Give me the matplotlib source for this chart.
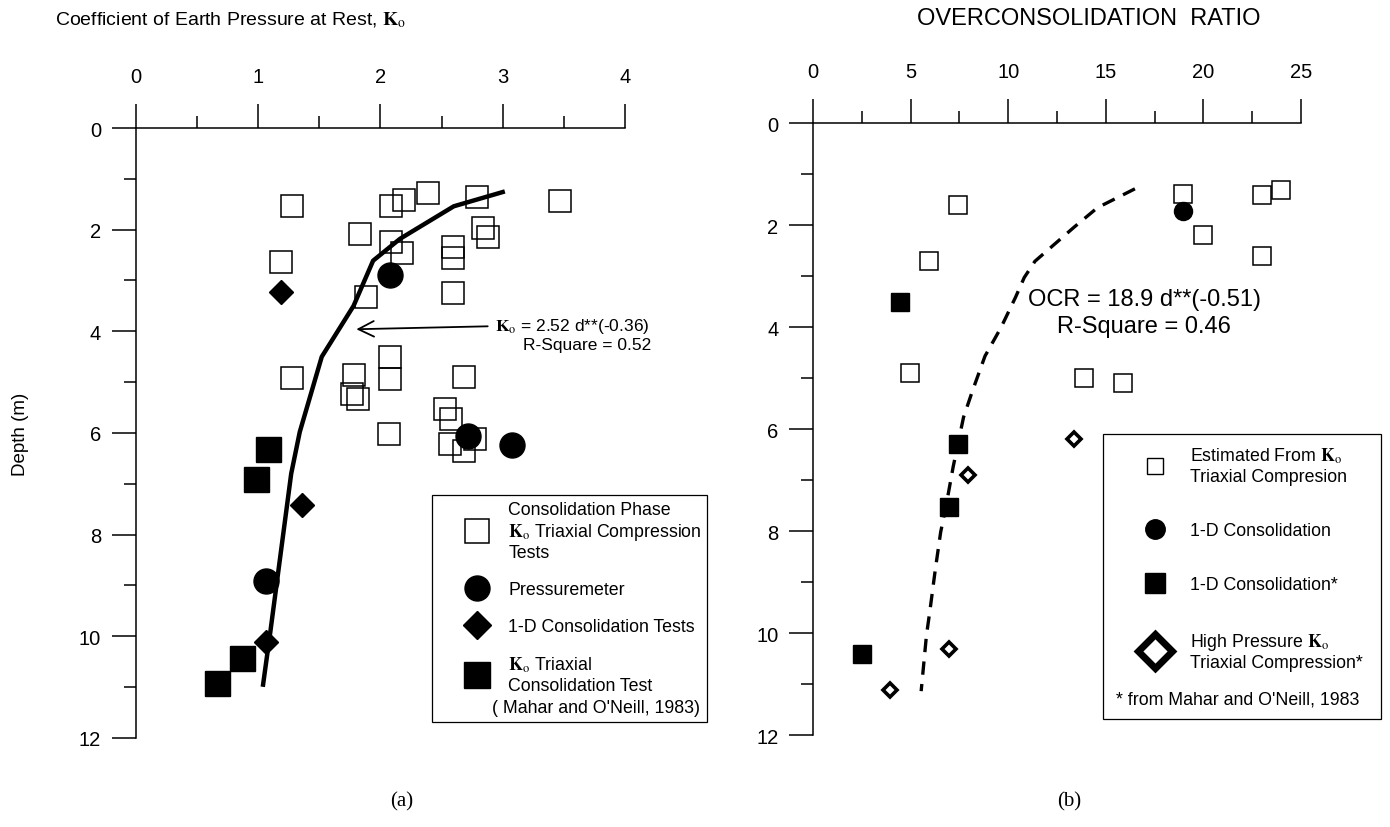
import matplotlib.pyplot as plt
from matplotlib.lines import Line2D
from matplotlib.patches import Rectangle
from matplotlib.ticker import MultipleLocator

plt.rcParams['font.family'] = ['Liberation Sans', 'DejaVu Sans']
plt.rcParams['mathtext.fontset'] = 'stix'

KO = r"$\mathbf{K}_{\mathrm{o}}$"

# (a) Ko vs depth
sq_k = [1.28, 2.09, 2.19, 2.39, 2.79, 3.47, 2.84, 2.88, 1.83, 2.09, 2.18, 2.59, 2.59,
        1.19, 2.59, 1.88, 1.28, 2.08, 2.08, 1.78, 1.77, 1.82, 2.68, 2.53, 2.58, 2.07,
        2.57, 2.77, 2.68]
sq_d = [1.53, 1.53, 1.41, 1.27, 1.35, 1.44, 1.96, 2.15, 2.08, 2.25, 2.45, 2.35, 2.55,
        2.63, 3.25, 3.33, 4.92, 4.50, 4.94, 4.86, 5.23, 5.33, 4.90, 5.53, 5.73, 6.02,
        6.22, 6.12, 6.36]
pm_k = [2.08, 2.72, 3.08, 1.06]
pm_d = [2.89, 6.05, 6.24, 8.91]
cd_k = [1.19, 1.36, 1.06]
cd_d = [3.23, 7.42, 10.11]
kt_k = [1.08, 0.98, 0.87, 0.66]
kt_d = [6.32, 6.91, 10.43, 10.92]
fit_k = [3.00, 2.60, 2.16, 1.94, 1.78, 1.52, 1.34, 1.27, 1.10, 1.04]
fit_d = [1.26, 1.54, 2.18, 2.61, 3.50, 4.50, 5.98, 6.80, 9.90, 10.95]

# (b) OCR vs depth
est_ocr = [7.44, 5.94, 4.97, 18.96, 19.96, 22.98, 23.98, 22.98, 13.88, 15.89]
est_d = [1.61, 2.71, 4.90, 1.40, 2.20, 1.42, 1.32, 2.60, 4.99, 5.09]
od_ocr = [18.96]
od_d = [1.72]
ods_ocr = [4.48, 7.44, 6.95, 2.49]
ods_d = [3.51, 6.30, 7.53, 10.41]
hp_ocr = [13.38, 7.92, 6.95, 3.95]
hp_d = [6.20, 6.91, 10.32, 11.11]
ocr_fit = [16.49, 14.57, 13.38, 11.37, 10.82, 10.37, 9.63, 8.81, 8.17, 7.71, 7.18,
           6.82, 6.54, 6.27, 6.00, 5.81, 5.54]
ocr_fit_d = [1.29, 1.66, 2.04, 2.71, 3.03, 3.42, 4.01, 4.57, 5.25, 5.77, 6.74,
             7.50, 8.02, 8.74, 9.53, 10.05, 11.14]

fig = plt.figure(figsize=(13.9, 8.28), dpi=100)
ax1 = fig.add_axes([0.0978, 0.1075, 0.3518, 0.7367])
ax2 = fig.add_axes([0.5849, 0.1111, 0.3511, 0.7391])


def style_axes(ax, xmax, xmaj, xmin):
    ax.set_xlim(0, xmax)
    ax.set_ylim(12, 0)
    ax.xaxis.tick_top()
    for s in ['right', 'bottom']:
        ax.spines[s].set_visible(False)
    for s in ['top', 'left']:
        ax.spines[s].set_linewidth(1.1)
    ax.xaxis.set_major_locator(MultipleLocator(xmaj))
    ax.xaxis.set_minor_locator(MultipleLocator(xmin))
    ax.yaxis.set_major_locator(MultipleLocator(2))
    ax.yaxis.set_minor_locator(MultipleLocator(1))
    ax.tick_params(which='major', length=17, width=1.1, labelsize=14.5)
    ax.tick_params(axis='x', which='major', pad=13)
    ax.tick_params(axis='y', which='major', pad=8)
    ax.tick_params(which='minor', length=8.5, width=1.1)


def legend_box(ax, x, y, w, h):
    ax.add_patch(Rectangle((x, y), w, h, transform=ax.transAxes, fc='white',
                           ec='black', lw=0.9, clip_on=False, zorder=6))


style_axes(ax1, 4, 1, 0.5)
style_axes(ax2, 25, 5, 2.5)

# ---- panel (a)
ax1.plot(sq_k, sq_d, 's', ms=16.5, mfc='none', mec='black', mew=1.1, zorder=3)
ax1.plot(fit_k, fit_d, '-', color='black', lw=3.2, zorder=4)
ax1.plot(pm_k, pm_d, 'o', ms=18, color='black', zorder=5)
ax1.plot(cd_k, cd_d, 'D', ms=12, color='black', zorder=5)
ax1.plot(kt_k, kt_d, 's', ms=18, color='black', zorder=5)

ax1.annotate('', xy=(1.78, 3.96), xytext=(2.9, 3.9),
             arrowprops=dict(arrowstyle='->', lw=1.3, mutation_scale=28, color='black'))
ax1.text(2.94, 3.88, KO + " = 2.52 d**(-0.36)", va='center', fontsize=12.5)
ax1.text(3.69, 4.25, "R-Square = 0.52", ha='center', va='center', fontsize=12.5)
ax1.set_ylabel("Depth (m)", fontsize=13.5, labelpad=36)

legend_box(ax1, 0.605, 0.026, 0.563, 0.372)
h1 = [Line2D([], [], ls='', marker='s', ms=17, mfc='none', mec='black', mew=1.1),
      Line2D([], [], ls='', marker='o', ms=18, color='black'),
      Line2D([], [], ls='', marker='D', ms=14, color='black'),
      Line2D([], [], ls='', marker='s', ms=19, color='black')]
l1 = ["Consolidation Phase\n" + KO + " Triaxial Compression\nTests",
      "Pressuremeter",
      "1-D Consolidation Tests",
      KO + " Triaxial\nConsolidation Test"]
leg1 = ax1.legend(h1, l1, loc='upper left', bbox_to_anchor=(0.605, 0.398),
                  borderaxespad=0, fontsize=12.8, frameon=False, labelspacing=1.12,
                  handlelength=4.5, handletextpad=-0.5, borderpad=0.3)
leg1.set_zorder(7)
ax1.text(0.728, 0.05, "( Mahar and O'Neill, 1983)", transform=ax1.transAxes,
         va='center', fontsize=12.8, zorder=8)

# ---- panel (b)
ax2.plot(est_ocr, est_d, 's', ms=13, mfc='white', mec='black', mew=1.1, zorder=3)
ax2.plot(ocr_fit, ocr_fit_d, '--', color='black', lw=2.4, dashes=(4, 2.8), zorder=4)
ax2.plot(od_ocr, od_d, 'o', ms=13, color='black', zorder=5)
ax2.plot(ods_ocr, ods_d, 's', ms=13, color='black', zorder=5)
ax2.plot(hp_ocr, hp_d, 'D', ms=7, mfc='white', mec='black', mew=2.6, zorder=5)

ax2.text(17.0, 3.46, "OCR = 18.9 d**(-0.51)", ha='center', va='center', fontsize=17)
ax2.text(16.95, 3.98, "R-Square = 0.46", ha='center', va='center', fontsize=17)

legend_box(ax2, 0.594, 0.026, 0.570, 0.466)
h2 = [Line2D([], [], ls='', marker='s', ms=12, mfc='none', mec='black', mew=1.0),
      Line2D([], [], ls='', marker='o', ms=14, color='black'),
      Line2D([], [], ls='', marker='s', ms=14, color='black'),
      Line2D([], [], ls='', marker='D', ms=17, mfc='white', mec='black', mew=5)]
l2 = ["Estimated From " + KO + "\nTriaxial Compresion",
      "1-D Consolidation",
      "1-D Consolidation*",
      "High Pressure " + KO + "\nTriaxial Compression*"]
leg2 = ax2.legend(h2, l2, loc='upper left', bbox_to_anchor=(0.594, 0.492),
                  borderaxespad=0, fontsize=12.8, frameon=False, labelspacing=2.1,
                  handlelength=4.5, handletextpad=-0.28, borderpad=0.67)
leg2.set_zorder(7)
ax2.text(0.621, 0.059, "* from Mahar and O'Neill, 1983", transform=ax2.transAxes,
         va='center', fontsize=12.8, zorder=8)

fig.text(55 / 1390, 1 - 20 / 828, "Coefficient of Earth Pressure at Rest, " + KO,
         ha='left', va='center', fontsize=14)
fig.text(1089 / 1390, 1 - 19 / 828, "OVERCONSOLIDATION  RATIO",
         ha='center', va='center', fontsize=17)
fig.text(402 / 1390, 1 - 802 / 828, "(a)", ha='center', va='center', fontsize=15,
         family='Liberation Serif')
fig.text(1069 / 1390, 1 - 802 / 828, "(b)", ha='center', va='center', fontsize=15,
         family='Liberation Serif')

fig.savefig("out.png", dpi=100)
